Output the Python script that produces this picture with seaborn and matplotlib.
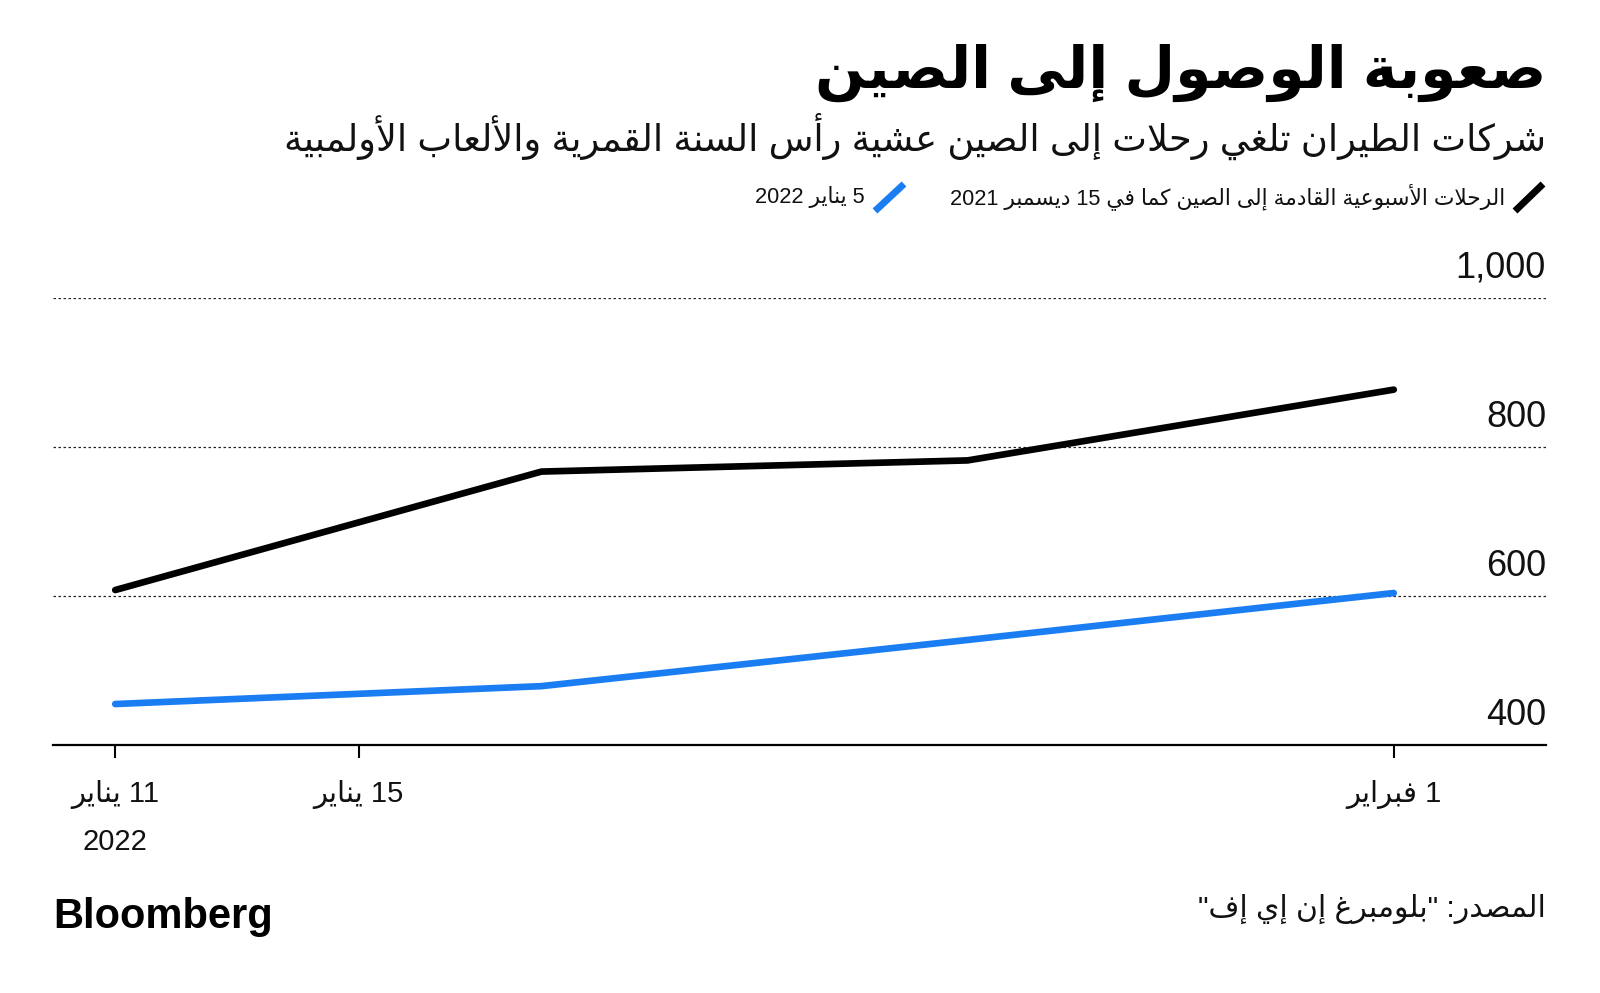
import re
import numpy as np
import pandas as pd
import matplotlib
matplotlib.use("Agg")
import matplotlib.pyplot as plt
import seaborn as sns
from matplotlib.lines import Line2D
from matplotlib.transforms import ScaledTranslation

# ---------------- data ----------------
dates = ["2022-01-11", "2022-01-18", "2022-01-25", "2022-02-01"]
flights_dec15 = [608, 767, 782, 877]
flights_jan5 = [455, 479, 541, 604]
series_names = ["الرحلات الأسبوعية القادمة إلى الصين كما في 15 ديسمبر 2021",
                "5 يناير 2022"]
series_colors = ["#000000", "#1a7ef2"]
y_ticks = [400, 600, 800, 1000]
y_tick_labels = ["400", "600", "800", "1,000"]
x_tick_dates = ["2022-01-11", "2022-01-15", "2022-02-01"]
x_tick_labels = ["11 يناير\n2022", "15 يناير", "1 فبراير"]
title = "صعوبة الوصول إلى الصين"
subtitle = "شركات الطيران تلغي رحلات إلى الصين عشية رأس السنة القمرية والألعاب الأولمبية"
source = "المصدر: \"بلومبرغ إن إي إف\""

# ---------------- Arabic shaping (presentation forms + visual order) ----------------
_FORM_TABLE = [
    (0x0621, 0xFE80, 1), (0x0622, 0xFE81, 2), (0x0623, 0xFE83, 2), (0x0624, 0xFE85, 2),
    (0x0625, 0xFE87, 2), (0x0626, 0xFE89, 4), (0x0627, 0xFE8D, 2), (0x0628, 0xFE8F, 4),
    (0x0629, 0xFE93, 2), (0x062A, 0xFE95, 4), (0x062B, 0xFE99, 4), (0x062C, 0xFE9D, 4),
    (0x062D, 0xFEA1, 4), (0x062E, 0xFEA5, 4), (0x062F, 0xFEA9, 2), (0x0630, 0xFEAB, 2),
    (0x0631, 0xFEAD, 2), (0x0632, 0xFEAF, 2), (0x0633, 0xFEB1, 4), (0x0634, 0xFEB5, 4),
    (0x0635, 0xFEB9, 4), (0x0636, 0xFEBD, 4), (0x0637, 0xFEC1, 4), (0x0638, 0xFEC5, 4),
    (0x0639, 0xFEC9, 4), (0x063A, 0xFECD, 4), (0x0641, 0xFED1, 4), (0x0642, 0xFED5, 4),
    (0x0643, 0xFED9, 4), (0x0644, 0xFEDD, 4), (0x0645, 0xFEE1, 4), (0x0646, 0xFEE5, 4),
    (0x0647, 0xFEE9, 4), (0x0648, 0xFEED, 2), (0x0649, 0xFEEF, 2), (0x064A, 0xFEF1, 4),
]
FORMS = {chr(b): tuple(chr(s + k) for k in range(n)) for b, s, n in _FORM_TABLE}
LAMALEF = {"\u0622": 0xFEF5, "\u0623": 0xFEF7, "\u0625": 0xFEF9, "\u0627": 0xFEFB}


def _shape(text):
    items, i = [], 0
    while i < len(text):
        c = text[i]
        if c == "\u0644" and i + 1 < len(text) and text[i + 1] in LAMALEF:
            items.append(("LA", text[i + 1]))
            i += 2
        else:
            items.append(("C", c))
            i += 1

    def jt(it):
        if it[0] == "LA":
            return "R"
        f = FORMS.get(it[1])
        if f is None:
            return "U"
        return {4: "D", 2: "R"}.get(len(f), "U")

    out = []
    for k, it in enumerate(items):
        t = jt(it)
        pt = jt(items[k - 1]) if k > 0 else "U"
        nt = jt(items[k + 1]) if k + 1 < len(items) else "U"
        jp = t in "DR" and pt == "D"
        jn = t == "D" and nt in "DR"
        if it[0] == "LA":
            base = LAMALEF[it[1]]
            out.append(chr(base + 1) if jp else chr(base))
            continue
        c = it[1]
        if t == "U":
            out.append(FORMS[c][0] if c in FORMS else c)
            continue
        f = FORMS[c]
        if t == "R":
            out.append(f[1] if jp else f[0])
        else:
            if jp and jn:
                out.append(f[3])
            elif jp:
                out.append(f[1])
            elif jn:
                out.append(f[2])
            else:
                out.append(f[0])
    return "".join(out)


def ar(text):
    lines = []
    for line in text.split("\n"):
        shaped = _shape(line)
        toks = re.findall(r"[0-9A-Za-z]+(?:[.,][0-9]+)*|[^0-9A-Za-z]+", shaped)
        vis = []
        for tok in reversed(toks):
            if re.match(r"[0-9A-Za-z]", tok):
                vis.append(tok)
            else:
                vis.append(tok[::-1])
        lines.append("".join(vis))
    return "\n".join(lines)


# ---------------- style ----------------
sns.set_theme(style="white")
FAM = ["Liberation Sans", "DejaVu Sans"]
plt.rcParams["font.family"] = FAM

df = pd.DataFrame({
    "date": pd.to_datetime(dates * 2),
    "flights": flights_dec15 + flights_jan5,
    "series": [series_names[0]] * len(dates) + [series_names[1]] * len(dates),
})

fig = plt.figure(figsize=(16, 9.93), dpi=100)
ax = fig.add_axes([53 / 1600, 1 - 745 / 993, (1546 - 53) / 1600, (745 - 298) / 993])

sns.lineplot(data=df, x="date", y="flights", hue="series",
             palette=dict(zip(series_names, series_colors)), linewidth=4.8,
             legend=False, ax=ax, solid_capstyle="round", solid_joinstyle="round")

ax.set_ylim(400, 1000)
ax.set_xlim(pd.Timestamp("2022-01-09 23:28"), pd.Timestamp("2022-02-03 12:00"))
ax.set_xlabel("")
ax.set_ylabel("")

for s in ["top", "left", "right"]:
    ax.spines[s].set_visible(False)
ax.spines["bottom"].set_color("black")
ax.spines["bottom"].set_linewidth(1.6)
ax.spines["bottom"].set_zorder(5)

ax.grid(False)
ax.set_yticks(y_ticks)
ax.yaxis.grid(True, linestyle=(0, (2, 2)), color="#222222", linewidth=0.9)
ax.yaxis.tick_right()
ax.set_yticklabels(y_tick_labels, fontsize=26, color="#111111")
ax.tick_params(axis="y", length=0, pad=0)
off = ScaledTranslation(0, 20 / 100, fig.dpi_scale_trans)
for lab in ax.get_yticklabels():
    lab.set_horizontalalignment("right")
    lab.set_verticalalignment("baseline")
    lab.set_transform(lab.get_transform() + off)

ax.set_xticks(pd.to_datetime(x_tick_dates))
ax.set_xticklabels([ar(t) for t in x_tick_labels], fontsize=21, color="#111111")
ax.tick_params(axis="x", direction="out", length=9.5, width=1.5, color="black",
               pad=16, bottom=True)
for lab in ax.get_xticklabels():
    lab.set_linespacing(1.85)
    lab.set_multialignment("center")

# ---------------- texts ----------------
fig.text(1546 / 1600, 1 - 73 / 993, ar(title), ha="right", va="center",
         fontsize=42, fontweight="bold", family=FAM, color="black")
fig.text(1546 / 1600, 1 - 136 / 993, ar(subtitle), ha="right", va="center",
         fontsize=26.5, family=FAM, color="#111111")

# legend (manual, right-to-left)
leg_items = [(1515, 1543, 1505), (875, 904, 865)]
for (x0, x1, tx), name, col in zip(leg_items, series_names, series_colors):
    fig.add_artist(Line2D([x0 / 1600, x1 / 1600], [1 - 211 / 993, 1 - 184 / 993],
                          transform=fig.transFigure, color=col, linewidth=5,
                          solid_capstyle="butt"))
    fig.text(tx / 1600, 1 - 197 / 993, ar(name), ha="right", va="center",
             fontsize=15.7, family=FAM, color="#111111")

fig.text(53 / 1600, 1 - 917 / 993, "Bloomberg", ha="left", va="center",
         fontsize=30, fontweight="heavy", family=FAM, color="black")
fig.text(1546 / 1600, 1 - 909 / 993, ar(source), ha="right", va="center",
         fontsize=21.5, family=FAM, color="#111111")

fig.savefig("out.png", dpi=100, facecolor="white")
